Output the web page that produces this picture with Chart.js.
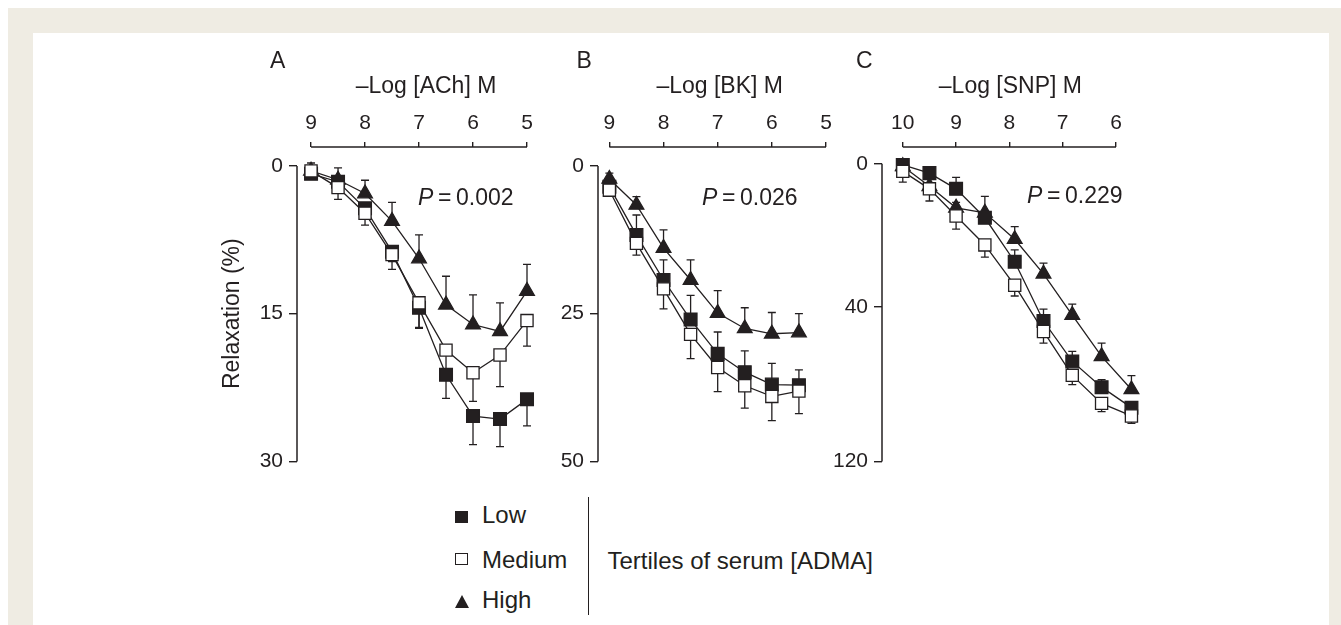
<!DOCTYPE html>
<html><head><meta charset="utf-8">
<script src="https://cdn.jsdelivr.net/npm/chart.js@4.4.1/dist/chart.umd.min.js"></script>
<style>
html,body{margin:0;padding:0;background:#fff;width:1341px;height:625px;overflow:hidden;font-family:"Liberation Sans",Arial,sans-serif;color:#231f20}
#frame{position:absolute;left:8px;top:8px;right:0;bottom:0;background:#efece3}
#inner{position:absolute;left:33px;top:33px;width:1296px;bottom:0;background:#fff}
canvas{position:absolute}
.t{position:absolute;white-space:nowrap;line-height:1}
.sym{position:absolute;box-sizing:border-box}
</style>
</head>
<body>
<div id="frame"></div>
<div id="inner"></div>
<canvas id="cA" width="360" height="440" style="left:200px;top:40px"></canvas>
<canvas id="cB" width="360" height="440" style="left:500px;top:40px"></canvas>
<canvas id="cC" width="380" height="440" style="left:780px;top:40px"></canvas>

<div class="t" style="left:270px;top:48.5px;font-size:23px">A</div>
<div class="t" style="left:576.5px;top:48.5px;font-size:23px">B</div>
<div class="t" style="left:856px;top:48.5px;font-size:23px">C</div>

<div class="t" style="left:418px;top:186px;font-size:23px"><i>P</i>&#8201;=&#8201;0.002</div>
<div class="t" style="left:702px;top:186px;font-size:23px"><i>P</i>&#8201;=&#8201;0.026</div>
<div class="t" style="left:1027px;top:184px;font-size:23px"><i>P</i>&#8201;=&#8201;0.229</div>

<div class="sym" style="left:455px;top:511px;width:13px;height:12px;background:#231f20"></div>
<div class="sym" style="left:455px;top:553px;width:13px;height:12px;border:1.3px solid #231f20;background:#fff"></div>
<div class="sym" style="left:455px;top:595px;width:0;height:0;border-left:7.5px solid transparent;border-right:7.5px solid transparent;border-bottom:13px solid #231f20"></div>
<div class="t" style="left:482px;top:502.7px;font-size:24px">Low</div>
<div class="t" style="left:482px;top:547.7px;font-size:24px">Medium</div>
<div class="t" style="left:482px;top:587.7px;font-size:24px">High</div>
<div class="sym" style="left:588px;top:497px;width:1.2px;height:118px;background:#231f20"></div>
<div class="t" style="left:607.5px;top:548.7px;font-size:24px">Tertiles of serum [ADMA]</div>

<script>
// ---------- data ----------
const ticksA = [9, 8, 7, 6, 5];
const ticksB = [9, 8, 7, 6, 5];
const ticksC = [10, 9, 8, 7, 6];
const yTicksA = [0, 15, 30];
const yTicksB = [0, 25, 50];
const yTicksC = [0, 40, 120];

const xA = [9, 8.5, 8, 7.5, 7, 6.5, 6, 5.5, 5];
const lowA  = [0.8, 1.6, 4.3, 8.7, 14.4, 21.2, 25.4, 25.7, 23.7];
const medA  = [0.5, 2.2, 4.8, 9.0, 13.9, 18.7, 21.0, 19.2, 15.7];
const highA = [0.5, 1.4, 2.8, 5.6, 9.4, 14.1, 16.1, 16.8, 12.7];
const lowErrA  = [0.3, 0.5, 0.5, 1.0, 2.0, 2.4, 2.9, 2.8, 2.7];
const medErrA  = [0.3, 1.2, 1.2, 1.5, 2.6, 2.4, 2.9, 3.2, 2.6];
const highErrA = [0.8, 1.2, 1.35, 1.9, 2.4, 2.9, 3.0, 2.9, 2.7];

const xB = [9, 8.5, 8, 7.5, 7, 6.5, 6, 5.5];
const lowB  = [3.5, 11.7, 19.3, 26.0, 31.8, 34.9, 37.0, 37.1];
const medB  = [4.1, 13.1, 20.8, 28.5, 34.1, 37.2, 39.0, 38.1];
const highB = [2.2, 6.6, 13.9, 19.3, 24.9, 27.5, 28.4, 28.2];
const lowErrB  = [0.5, 3.4, 3.4, 4.1, 3.7, 3.6, 3.6, 2.6];
const medErrB  = [0.8, 2.0, 3.4, 4.1, 4.1, 3.8, 4.1, 3.8];
const highErrB = [1.0, 1.4, 3.1, 3.4, 3.8, 3.5, 3.6, 3.2];

const xC = [10, 9.5, 9, 8.46, 7.9, 7.36, 6.82, 6.27, 5.71];
const lowC  = [0.3, 2.6, 7.0, 15.1, 27.4, 47.4, 68.3, 81.6, 92.2];
const medC  = [2.1, 7.0, 14.6, 22.7, 34.0, 52.8, 75.5, 90.0, 96.5];
const highC = [0.7, 6.3, 12.3, 13.7, 21.1, 30.8, 44.3, 65.7, 82.8];
const lowErrC  = [0.5, 0.5, 3.2, 1.5, 3.3, 6.2, 5.2, 3.9, 2.0];
const medErrC  = [3.0, 3.4, 3.7, 3.4, 3.0, 6.0, 4.8, 4.3, 3.8];
const highErrC = [0.5, 1.0, 1.5, 4.6, 3.5, 3.0, 5.0, 6.9, 7.2];

// ---------- styling ----------
const FONT = '"Liberation Sans", Arial, sans-serif';
const INK = '#231f20';

class PiecewiseScale extends Chart.LinearScale {
  _dec(v) {
    const b = this.options.breaks;
    let i = b.length - 2;
    for (let k = 0; k < b.length - 1; k++) { if (v <= b[k + 1][0]) { i = k; break; } }
    const [v0, d0] = b[i], [v1, d1] = b[i + 1];
    return d0 + (v - v0) * (d1 - d0) / (v1 - v0);
  }
  getPixelForValue(v) {
    if (v === null || v === undefined || isNaN(v)) return NaN;
    return this.getPixelForDecimal(this._dec(v));
  }
  getValueForPixel(p) {
    const d = this.getDecimalForPixel(p);
    const b = this.options.breaks;
    let i = b.length - 2;
    for (let k = 0; k < b.length - 1; k++) { if (d <= b[k + 1][1]) { i = k; break; } }
    const [v0, d0] = b[i], [v1, d1] = b[i + 1];
    return v0 + (d - d0) * (v1 - v0) / (d1 - d0);
  }
}
PiecewiseScale.id = 'piecewise';
PiecewiseScale.defaults = Chart.LinearScale.defaults;
Chart.register(PiecewiseScale);

const errorBars = {
  id: 'errorBars',
  beforeDatasetsDraw(chart) {
    const ctx = chart.ctx, xs = chart.scales.x, ys = chart.scales.y;
    ctx.save();
    ctx.strokeStyle = INK; ctx.lineWidth = 1.3;
    chart.data.datasets.forEach(ds => {
      const sign = ds.errSide === 'down' ? 1 : -1;
      ds.data.forEach((pt, i) => {
        const e = ds.errors[i];
        if (!e) return;
        const x = xs.getPixelForValue(pt.x);
        const y0 = ys.getPixelForValue(pt.y);
        const y1 = ys.getPixelForValue(pt.y + sign * e);
        ctx.beginPath();
        ctx.moveTo(x, y0); ctx.lineTo(x, y1);
        ctx.moveTo(x - 4, y1); ctx.lineTo(x + 4, y1);
        ctx.stroke();
      });
    });
    ctx.restore();
  }
};

const axisDeco = {
  id: 'axisDeco',
  afterDraw(chart, args, opts) {
    const ctx = chart.ctx, xs = chart.scales.x, ys = chart.scales.y;
    const xt = xs.ticks, yt = ys.ticks;
    const xa = xs.getPixelForValue(xt[0].value), xb = xs.getPixelForValue(xt[xt.length - 1].value);
    const ya = ys.getPixelForValue(yt[0].value), yb = ys.getPixelForValue(yt[yt.length - 1].value);
    ctx.save();
    ctx.strokeStyle = INK; ctx.lineWidth = 1.5;
    ctx.beginPath(); ctx.moveTo(xa, xs.bottom); ctx.lineTo(xb, xs.bottom); ctx.stroke();
    ctx.beginPath(); ctx.moveTo(ys.right, ya); ctx.lineTo(ys.right, yb); ctx.stroke();
    ctx.fillStyle = INK;
    ctx.font = '23px ' + FONT;
    ctx.textAlign = 'center'; ctx.textBaseline = 'alphabetic';
    ctx.fillText(opts.xTitle, (xa + xb) / 2 + (opts.xShift || 0), opts.xTitleY);
    if (opts.yTitle) {
      ctx.translate(opts.yTitleX, (ya + yb) / 2);
      ctx.rotate(-Math.PI / 2);
      ctx.textBaseline = 'middle';
      ctx.fillText(opts.yTitle, 0, 0);
    }
    ctx.restore();
  }
};

function series(label, xs, ys, errs, side, style, fill, order, radius) {
  return {
    label, data: xs.map((x, i) => ({ x, y: ys[i] })), errors: errs, errSide: side,
    showLine: true, borderColor: INK, borderWidth: 1.3, backgroundColor: fill,
    pointStyle: style, pointRadius: radius, pointBorderWidth: 1.3,
    pointBorderColor: INK, pointBackgroundColor: fill, order, clip: false, tension: 0
  };
}

function panel(id, c) {
  const yScale = {
    type: c.yType, position: 'left', reverse: true, min: c.yMin, max: c.yMax,
    afterBuildTicks: s => { s.ticks = c.yTicks.map(v => ({ value: v })); },
    afterFit: s => { s.width = c.yW; },
    grid: { drawOnChartArea: false, drawTicks: true, tickLength: 8, color: INK, lineWidth: 1.4 },
    border: { display: false },
    ticks: { font: { size: 21, family: FONT }, color: INK, padding: 6, callback: v => String(v) }
  };
  if (c.breaks) yScale.breaks = c.breaks;
  new Chart(document.getElementById(id), {
    type: 'scatter',
    data: {
      datasets: [
        series('Low', c.x, c.low, c.lowErr, c.lowSide, 'rect', INK, 1, 9),
        series('Medium', c.x, c.med, c.medErr, 'down', 'rect', '#ffffff', 0, 8.6),
        series('High', c.x, c.high, c.highErr, 'up', 'triangle', INK, 2, 8.5)
      ]
    },
    options: {
      responsive: false, animation: false, events: [],
      layout: { padding: { left: 0, top: 0, right: c.padR, bottom: c.padB } },
      plugins: {
        legend: { display: false }, tooltip: { enabled: false },
        axisDeco: { xTitle: c.xTitle, xTitleY: 53, xShift: c.xShift, yTitle: c.yTitle, yTitleX: 33 }
      },
      scales: {
        x: {
          type: 'linear', position: 'top', reverse: true, min: c.xMin, max: c.xMax,
          afterBuildTicks: s => { s.ticks = c.xTicks.map(v => ({ value: v })); },
          afterFit: s => { s.height = 107; },
          grid: { drawOnChartArea: false, drawTicks: true, tickLength: 5, color: INK, lineWidth: 1.4 },
          border: { display: false },
          ticks: { font: { size: 21, family: FONT }, color: INK, padding: 6, maxRotation: 0, autoSkip: false, callback: v => String(v) }
        },
        y: yScale
      }
    },
    plugins: [errorBars, axisDeco]
  });
}

panel('cA', {
  x: xA, low: lowA, med: medA, high: highA, lowErr: lowErrA, medErr: medErrA, highErr: highErrA, lowSide: 'down',
  xTicks: ticksA, xMin: 5, xMax: 9.26, yTicks: yTicksA, yType: 'linear', yMin: -1.926, yMax: 30,
  yW: 97, padR: 33, padB: 18, xTitle: '\u2013Log [ACh] M', xShift: 7, yTitle: 'Relaxation (%)'
});
panel('cB', {
  x: xB, low: lowB, med: medB, high: highB, lowErr: lowErrB, medErr: medErrB, highErr: highErrB, lowSide: 'up',
  xTicks: ticksB, xMin: 5, xMax: 9.21, yTicks: yTicksB, yType: 'linear', yMin: -3.21, yMax: 50,
  yW: 98, padR: 34, padB: 18, xTitle: '\u2013Log [BK] M', xShift: 2
});
panel('cC', {
  x: xC, low: lowC, med: medC, high: highC, lowErr: lowErrC, medErr: medErrC, highErr: highErrC, lowSide: 'up',
  xTicks: ticksC, xMin: 5.6, xMax: 10.39, yTicks: yTicksC, yType: 'piecewise', yMin: -4.72, yMax: 120,
  breaks: [[-4.72, 0], [0, 0.0536], [40, 0.508], [120, 1]],
  yW: 102, padR: 22.7, padB: 16, xTitle: '\u2013Log [SNP] M', xShift: 1
});
</script>
</body></html>
